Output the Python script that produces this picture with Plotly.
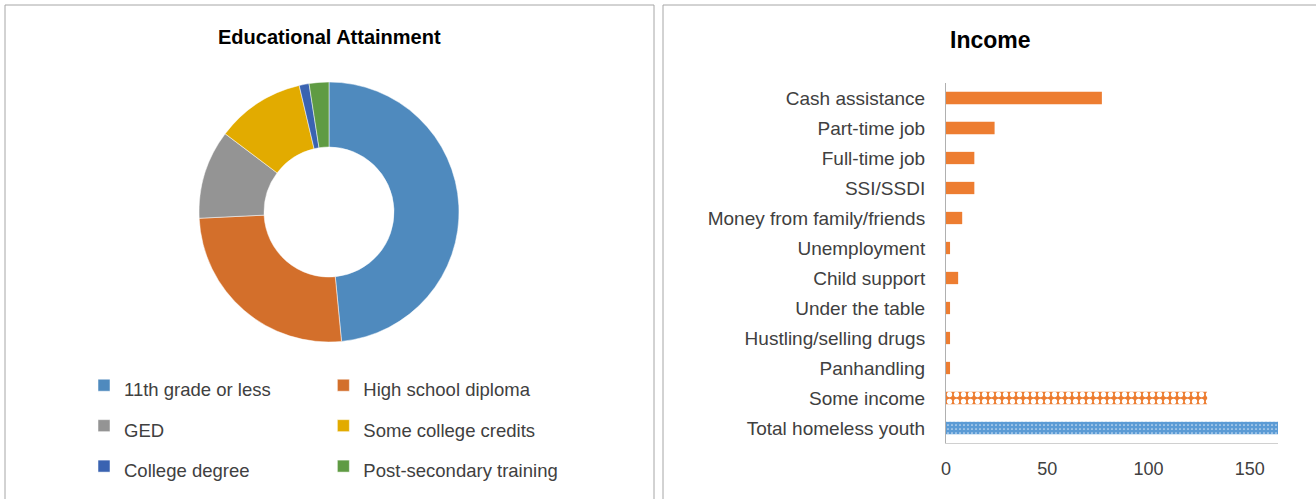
import plotly.graph_objects as go

# educational attainment (pie)
edu_labels = ["11th grade or less", "High school diploma", "GED",
              "Some college credits", "College degree", "Post-secondary training"]
edu_values = [79, 42, 18, 18, 2, 4]
edu_colors = ["#4F8ABE", "#D36F2B", "#949494", "#E2AB00", "#3A63B1", "#5F9B43"]

# income sources (bars)
income_labels = ["Cash assistance", "Part-time job", "Full-time job", "SSI/SSDI",
                 "Money from family/friends", "Unemployment", "Child support",
                 "Under the table", "Hustling/selling drugs", "Panhandling",
                 "Some income", "Total homeless youth"]
income_values = [77, 24, 14, 14, 8, 2, 6, 2, 2, 2, 129, 164]

W, H = 1316, 499
ML = 90  # left margin, legend sits just left of the plot area


def px_x(p):
    return (p - ML) / (W - ML)


def px_y(p):
    return 1 - p / H


font = "Liberation Sans"

fig = go.Figure()

# legend font size only sets row height; the span sets the visible size
fig.add_trace(go.Pie(
    labels=["<span style='font-size:18.5px'>%s</span>" % l for l in edu_labels],
    values=edu_values,
    marker=dict(colors=edu_colors, line=dict(color="white", width=0.5)),
    hole=0.5, sort=False, direction="clockwise", rotation=0,
    textinfo="none", hoverinfo="percent",
    domain=dict(x=[px_x(199), px_x(459)], y=[px_y(342), px_y(82)]),
))

# plain sources, then the two patterned summary bars
fig.add_trace(go.Bar(
    y=income_labels[:10], x=income_values[:10], orientation="h",
    marker=dict(color="#ED7D31", line=dict(width=0)),
    showlegend=False, width=0.41,
))
fig.add_trace(go.Bar(
    y=income_labels[10:11], x=income_values[10:11], orientation="h",
    marker=dict(color="#ED7D31", line=dict(width=0),
                pattern=dict(shape=".", fillmode="overlay", fgcolor="white",
                             fgopacity=1, size=7, solidity=0.45)),
    showlegend=False, width=0.41,
))
fig.add_trace(go.Bar(
    y=income_labels[11:], x=income_values[11:], orientation="h",
    marker=dict(color="#5B9BD5", line=dict(width=0),
                pattern=dict(shape=".", fillmode="overlay", fgcolor="white",
                             fgopacity=0.7, size=4, solidity=0.15)),
    showlegend=False, width=0.41,
))

fig.update_layout(
    width=W, height=H,
    margin=dict(l=ML, r=0, t=0, b=0, autoexpand=False),
    paper_bgcolor="white", plot_bgcolor="white",
    font=dict(family=font, size=19, color="#404040"),
    showlegend=True, barmode="overlay",
    legend=dict(orientation="h", x=px_x(84), xanchor="left", y=px_y(360), yanchor="top",
                traceorder="normal",
                font=dict(family=font, size=28.8, color="#404040")),
    xaxis=dict(domain=[px_x(946), px_x(1278)], range=[0, 164], dtick=50,
               showgrid=False, zeroline=False, showline=True, linecolor="#D0D0D0",
               ticks="", ticklabelstandoff=9, tickfont=dict(size=18, color="#404040")),
    yaxis=dict(domain=[px_y(443), px_y(83)], autorange="reversed",
               categoryorder="array", categoryarray=income_labels,
               showgrid=False, showline=True, linecolor="#B0B0B0",
               ticks="", ticklabelstandoff=16, tickfont=dict(size=19, color="#404040")),
    annotations=[
        dict(text="<b>Educational Attainment</b>", x=px_x(329), y=px_y(37), xref="paper", yref="paper",
             xanchor="center", yanchor="middle",
             showarrow=False, font=dict(family=font, size=20, color="black")),
        dict(text="<b>Income</b>", x=px_x(990), y=px_y(40), xref="paper", yref="paper",
             xanchor="center", yanchor="middle",
             showarrow=False, font=dict(family=font, size=23, color="black")),
    ],
    shapes=[
        dict(type="rect", xref="paper", yref="paper", x0=px_x(5), x1=px_x(654),
             y0=px_y(510), y1=px_y(5), line=dict(color="#A6A6A6", width=1)),
        dict(type="rect", xref="paper", yref="paper", x0=px_x(663), x1=px_x(1330),
             y0=px_y(510), y1=px_y(5), line=dict(color="#A6A6A6", width=1)),
    ],
)

fig.write_html("out.html", config={"displayModeBar": False},
               post_script="document.body.style.margin='0';")
